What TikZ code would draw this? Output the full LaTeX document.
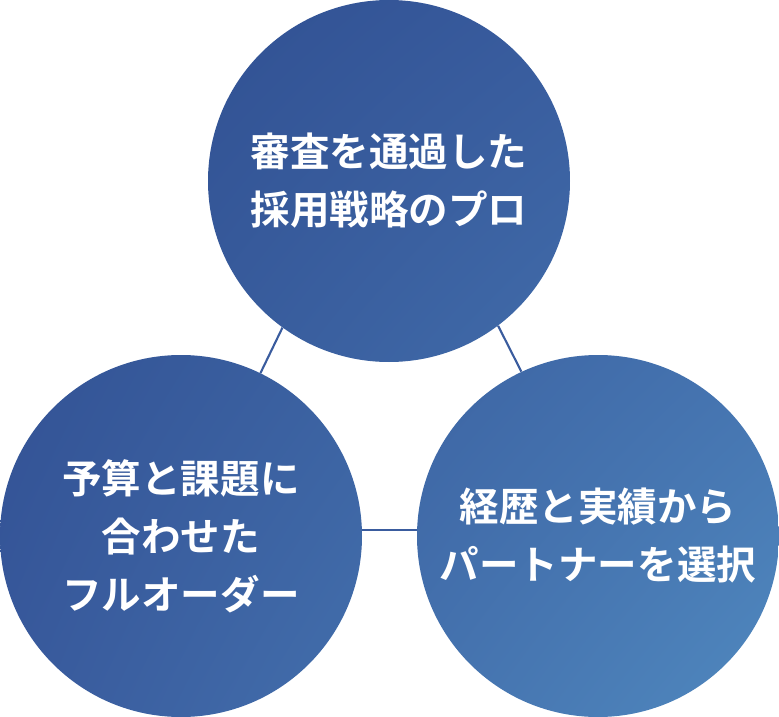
\documentclass[tikz,border=0pt]{standalone}
\usepackage{fontspec}
\newfontfamily\jp{Noto Sans CJK JP}[BoldFont={* Bold}]
\usetikzlibrary{backgrounds,shadings}
\definecolor{deepblue}{HTML}{2D4B8D}
\definecolor{midblue}{HTML}{3C61A3}
\definecolor{midblueb}{HTML}{38599C}
\definecolor{lightblue}{HTML}{5089BF}
\definecolor{linkblue}{HTML}{3A5C9E}

\begin{document}
\begin{tikzpicture}[x=0.02cm, y=-0.02cm,
    bubble/.style={circle, minimum size=7.24cm, inner sep=0pt, align=center,
      text=white, font=\jp\bfseries\fontsize{22.5}{33}\selectfont},
    link/.style={line width=1.2pt, draw=linkblue}]
    \useasboundingbox (0,0) rectangle (779,717);

    % Circles
    \node[bubble] (strategy) at (389,181) {審査を通過した\\採用戦略のプロ};
    \node[bubble] (budget) at (181,536) {予算と課題に\\合わせた\\フルオーダー};
    \node[bubble] (partner) at (598,536) {経歴と実績から\\パートナーを選択};

    \begin{scope}[on background layer]
        % Connections
        \draw[link] (strategy.234) -- (budget.64);
        \draw[link] (strategy.307) -- (partner.115);
        \draw[link] (budget.2) -- (partner.178);

        % Fill
        \clip (strategy.center) circle[radius=181]
              (budget.center) circle[radius=181]
              (partner.center) circle[radius=181];
        \shade[upper left=deepblue, upper right=midblue,
               lower left=midblueb, lower right=lightblue] (0,0) rectangle (779,717);
    \end{scope}
\end{tikzpicture}
\end{document}
